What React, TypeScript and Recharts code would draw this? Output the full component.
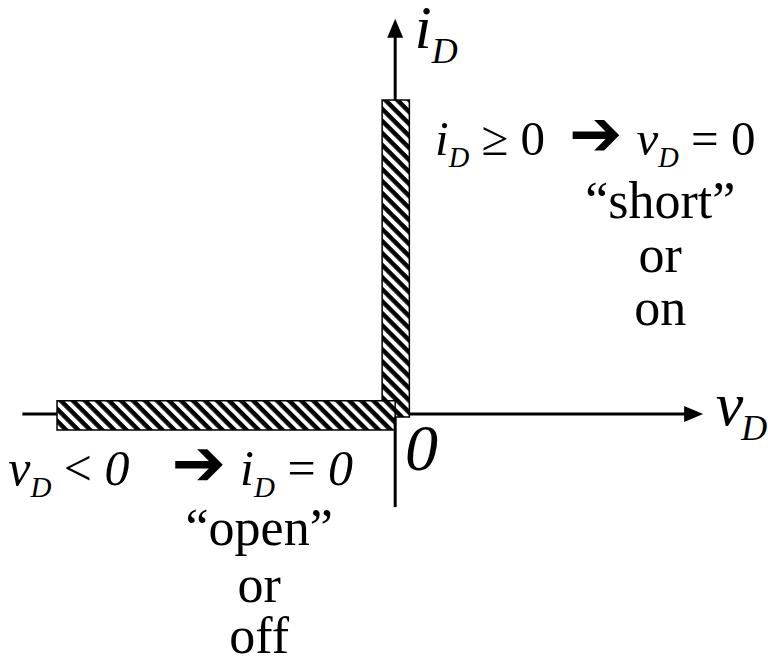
import React from 'react';
import { ComposedChart, XAxis, YAxis, ReferenceArea, ReferenceLine, ReferenceDot } from 'recharts';

// ideal diode i-v characteristic, units are arbitrary "divisions"
const V_RANGE = [-10.6, 10];
const I_RANGE = [-6.6, 11.1];
const V_AXIS = [-10, 8.26];
const I_AXIS = [-2.5, 10.6];
// conducting branch (vD = 0, iD >= 0)
const ON_V = [-0.35, 0.38];
const ON_I = [-0.08, 8.42];
// blocking branch (vD < 0, iD = 0)
const OFF_V = [-9.07, 0];
const OFF_I = [-0.43, 0.35];

// [text, kind, dx]
type Part = [string, string?, number?];

// annotations: anchor in chart units
const LABELS: { v: number; i: number; size: number; anchor?: string; parts: Part[] }[] = [
    { v: 0.52, i: 9.82, size: 62, parts: [['i', 'it'], ['D', 'sub']] },
    { v: 8.6, i: -0.29, size: 62, parts: [['v', 'it'], ['D', 'sub', -2]] },
    { v: 0.26, i: -1.5, size: 66, parts: [['0', 'it']] },
    {
        v: 1.07, i: 6.94, size: 49,
        parts: [['i', 'it'], ['D', 'sub'], [' ≥ 0'], ['➔', 'arrow', 24], ['v', 'it', 14], ['D', 'sub'], [' = 0']],
    },
    { v: 7.11, i: 5.26, size: 52, anchor: 'middle', parts: [['“short”']] },
    { v: 7.11, i: 3.81, size: 52, anchor: 'middle', parts: [['or']] },
    { v: 7.11, i: 2.39, size: 52, anchor: 'middle', parts: [['on']] },
    {
        v: -10.38, i: -1.9, size: 50,
        parts: [['v', 'it'], ['D', 'sub'], [' < '], ['0', 'it'], ['➔', 'arrow', 42], ['i', 'it', 14], ['D', 'sub'], [' = '], ['0', 'it']],
    },
    { v: -3.65, i: -3.51, size: 52, anchor: 'middle', parts: [['“open”']] },
    { v: -3.65, i: -5.04, size: 52, anchor: 'middle', parts: [['or']] },
    { v: -3.65, i: -6.4, size: 52, anchor: 'middle', parts: [['off']] },
];

const Rich = ({ cx, cy, parts, size, anchor = 'start' }: any) => {
    const shift = size * 0.25;
    let down = false;
    const nodes = parts.map(([t, kind, dx]: Part, k: number) => {
        let dy = 0;
        if (kind === 'sub' && !down) { dy = shift; down = true; }
        else if (kind !== 'sub' && down) { dy = -shift; down = false; }
        return (
            <tspan
                key={k}
                dx={dx || undefined}
                dy={dy || undefined}
                fontSize={kind === 'sub' ? size * 0.58 : kind === 'arrow' ? size * 1.3 : size}
                fontStyle={kind === 'it' || kind === 'sub' ? 'italic' : 'normal'}
                fontFamily={kind === 'arrow' ? "'DejaVu Sans', sans-serif" : undefined}
                fontWeight={kind === 'arrow' ? 'bold' : undefined}
            >
                {t}
            </tspan>
        );
    });
    return (
        <text x={cx} y={cy} textAnchor={anchor} fontFamily="'Liberation Serif', 'Times New Roman', serif"
            fontSize={size} fill="#000" style={{ whiteSpace: 'pre' }}>
            {nodes}
        </text>
    );
};

const AxisSeg = ({ x1, y1, x2, y2, arrow }: any) => {
    if (!arrow) return <line x1={x1} y1={y1} x2={x2} y2={y2} stroke="#000" strokeWidth={3} />;
    const len = Math.hypot(x2 - x1, y2 - y1);
    const ux = (x2 - x1) / len, uy = (y2 - y1) / len;
    const L = 19, W = 8;
    const bx = x2 - ux * L, by = y2 - uy * L;
    return (
        <g>
            <line x1={x1} y1={y1} x2={bx + ux} y2={by + uy} stroke="#000" strokeWidth={3} />
            <polygon points={`${x2},${y2} ${bx - uy * W},${by + ux * W} ${bx + uy * W},${by - ux * W}`} fill="#000" />
        </g>
    );
};

export default function App() {
    return (
        <div style={{ position: 'absolute', left: 0, top: 0, width: 768, height: 660, background: '#fff' }}>
            <ComposedChart width={768} height={660} margin={{ top: 0, right: 0, bottom: 0, left: 0 }}>
                <defs>
                    <pattern id="hatch" width="8.5" height="8.5" patternUnits="userSpaceOnUse" patternTransform="rotate(45)">
                        <rect width="8.5" height="8.5" fill="#fff" />
                        <rect width="8.5" height="4.5" fill="#000" />
                    </pattern>
                </defs>
                <XAxis type="number" dataKey="v" domain={V_RANGE} hide allowDataOverflow />
                <YAxis type="number" dataKey="i" domain={I_RANGE} hide allowDataOverflow />

                {/* axes, split around the hatched branches */}
                <ReferenceLine segment={[{ x: V_AXIS[0], y: 0 }, { x: OFF_V[0], y: 0 }]} shape={(p: any) => <AxisSeg {...p} />} />
                <ReferenceLine segment={[{ x: ON_V[1], y: 0 }, { x: V_AXIS[1], y: 0 }]} shape={(p: any) => <AxisSeg {...p} arrow />} />
                <ReferenceLine segment={[{ x: 0, y: I_AXIS[0] }, { x: 0, y: ON_I[0] }]} shape={(p: any) => <AxisSeg {...p} />} />
                <ReferenceLine segment={[{ x: 0, y: ON_I[1] }, { x: 0, y: I_AXIS[1] }]} shape={(p: any) => <AxisSeg {...p} arrow />} />

                <ReferenceArea x1={ON_V[0]} x2={ON_V[1]} y1={ON_I[0]} y2={ON_I[1]} fill="url(#hatch)" fillOpacity={1} stroke="#000" strokeWidth={1.5} />
                <ReferenceArea x1={OFF_V[0]} x2={OFF_V[1]} y1={OFF_I[0]} y2={OFF_I[1]} fill="url(#hatch)" fillOpacity={1} stroke="#000" strokeWidth={1.5} />

                {LABELS.map((l, k) => (
                    <ReferenceDot key={k} x={l.v} y={l.i} r={0} fill="none" stroke="none"
                        shape={(p: any) => <Rich cx={p.cx} cy={p.cy} parts={l.parts} size={l.size} anchor={l.anchor} />} />
                ))}
            </ComposedChart>
        </div>
    );
}
